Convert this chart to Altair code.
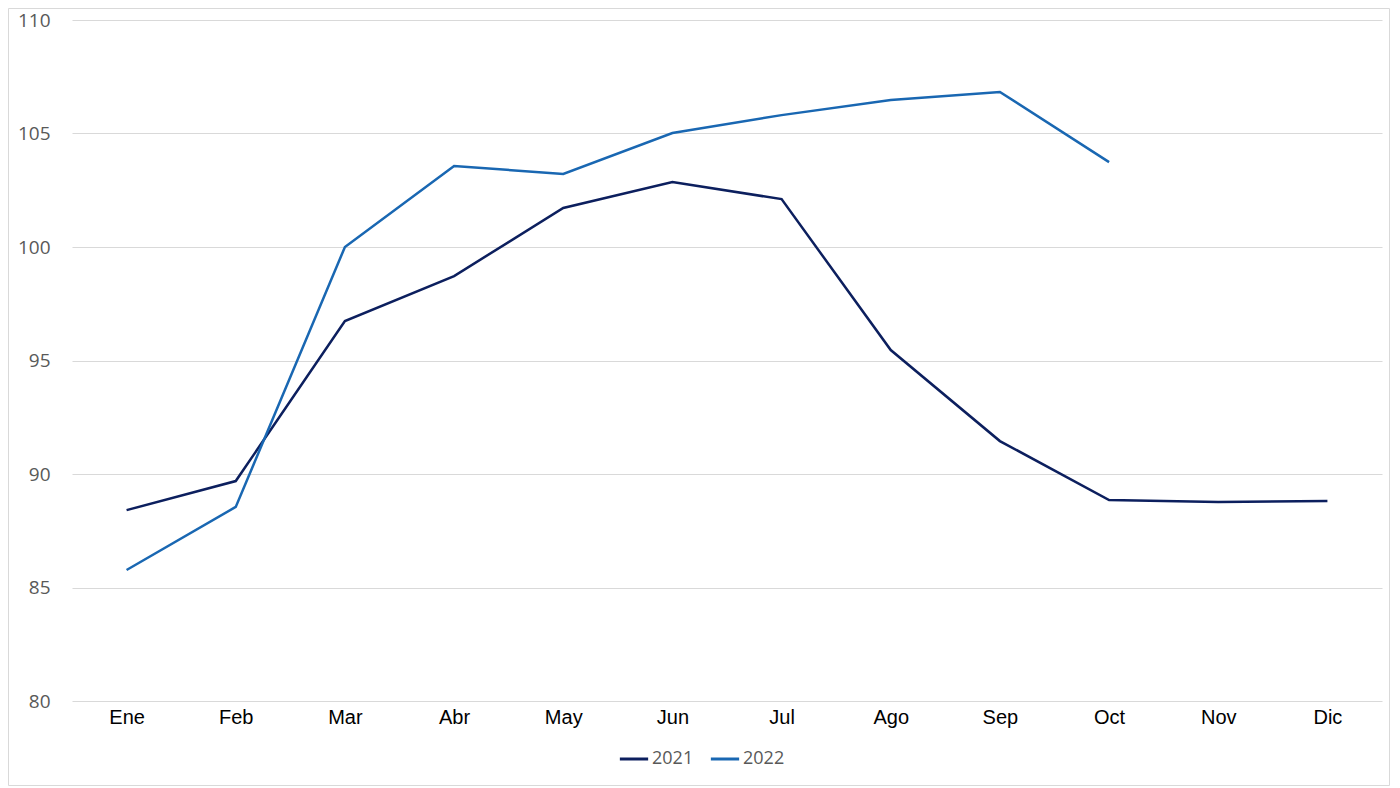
import altair as alt
import pandas as pd

months = ["Ene", "Feb", "Mar", "Abr", "May", "Jun", "Jul", "Ago", "Sep", "Oct", "Nov", "Dic"]
v2021 = [88.41, 89.69, 96.74, 98.72, 101.72, 102.86, 102.11, 95.46, 91.45, 88.85, 88.77, 88.81]
v2022 = [85.77, 88.55, 100.0, 103.57, 103.22, 105.02, 105.81, 106.48, 106.83, 103.74]
series = ["2021", "2022"]
colors = ["#0c1f5e", "#1967b2"]

rows = []
for m, v in zip(months, v2021):
    rows.append({"mes": m, "serie": "2021", "valor": v})
for m, v in zip(months, v2022):
    rows.append({"mes": m, "serie": "2022", "valor": v})
df = pd.DataFrame(rows)

W, H = 1310, 681

lines = alt.Chart(df).mark_line(strokeWidth=2.5).encode(
    x=alt.X("mes:N", sort=months, scale=alt.Scale(type="point", padding=0.5),
            axis=alt.Axis(title=None, labelAngle=0, grid=False, domain=False, ticks=False,
                          labelFont="Liberation Sans", labelFontSize=20, labelColor="#000000",
                          labelPadding=6)),
    y=alt.Y("valor:Q", scale=alt.Scale(domain=[80, 110], nice=False, zero=False),
            axis=alt.Axis(title=None, values=[80, 85, 90, 95, 100, 105, 110], grid=True,
                          gridColor="#d9d9d9", gridWidth=1, domain=False, ticks=False,
                          labelFont="Open Sans", labelFontSize=19, labelColor="#595959",
                          labelPadding=22)),
    color=alt.Color("serie:N", scale=alt.Scale(domain=series, range=colors),
                    legend=alt.Legend(title=None, orient="none", direction="horizontal",
                                      legendX=546, legendY=723, symbolType="stroke",
                                      symbolStrokeWidth=3, symbolSize=800,
                                      labelFont="Open Sans", labelFontSize=18,
                                      labelColor="#595959", columnPadding=10,
                                      labelOffset=2)),
    detail="serie:N",
)

border = alt.Chart(pd.DataFrame({"a": [0]})).mark_rect(
    fill=None, stroke="#d9d9d9", strokeWidth=1
).encode(x=alt.value(-63.5), x2=alt.value(W + 7.5), y=alt.value(-11.5), y2=alt.value(H + 84.5))

chart = alt.layer(border, lines).properties(
    width=W, height=H,
    padding={"left": 64, "top": 12, "right": 8, "bottom": 86},
    autosize=alt.AutoSizeParams(type="none"),
).configure(background="white").configure_view(stroke=None)

chart.save("out.html", embed_options={"renderer": "svg", "actions": False})
